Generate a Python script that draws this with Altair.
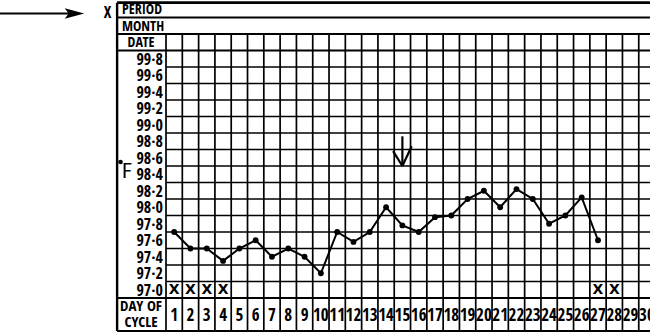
import altair as alt
import pandas as pd

# ---- data ----
days = list(range(1, 28))
temps = [97.7, 97.5, 97.5, 97.35, 97.5, 97.6, 97.4, 97.5, 97.4, 97.2,
         97.7, 97.58, 97.7, 98.0, 97.78, 97.7, 97.88, 97.9, 98.1, 98.2,
         98.0, 98.22, 98.1, 97.8, 97.9, 98.12, 97.6]
period_days = [1, 2, 3, 4, 27, 28]
temp_ticks = [97.0, 97.2, 97.4, 97.6, 97.8, 98.0, 98.2, 98.4, 98.6, 98.8,
              99.0, 99.2, 99.4, 99.6, 99.8]
temp_labels = ["97·0", "97·2", "97·4", "97·6", "97·8", "98·0", "98·2", "98·4",
               "98·6", "98·8", "99·0", "99·2", "99·4", "99·6", "99·8"]
cycle_days = list(range(1, 31))
header_labels = ["PERIOD", "MONTH", "DATE"]
ovulation_day = 15

# ---- layout (scale units: x = day of cycle, y = temperature) ----
XMIN, XMAX = -9.684, 30.19
YMIN, YMAX = 96.488, 100.512
LEFT = -2.5          # left edge of the label column
GRID_L = 0.5         # first day column boundary
ROW = 0.2
T_BOT = 96.9         # bottom of the 97.0 row
T_TOP = 99.9         # top of the 99.8 row
DATE_TOP = T_TOP + ROW
MONTH_TOP = DATE_TOP + ROW
PERIOD_TOP = MONTH_TOP + ROW
BOTTOM = T_BOT - 2 * ROW

NUM_FONT = "Open Sans Condensed, Roboto Condensed, DejaVu Sans Condensed"

xs = alt.Scale(domain=[XMIN, XMAX], nice=False, zero=False)
ys = alt.Scale(domain=[YMIN, YMAX], nice=False, zero=False)


def X(f="u"):
    return alt.X(f + ":Q", scale=xs, axis=None)


def Y(f="v"):
    return alt.Y(f + ":Q", scale=ys, axis=None)


# grid rules
vert = pd.DataFrame({"u": [d + 0.5 for d in range(0, 30)]})
vert["u2"] = vert["u"]
vert["v"] = DATE_TOP
vert["v2"] = BOTTOM

inner_h = pd.DataFrame({"v": [round(T_BOT + ROW * k, 2) for k in range(1, 15)]})
inner_h["v2"] = inner_h["v"]
inner_h["u"] = GRID_L
inner_h["u2"] = XMAX

box_h = pd.DataFrame({"v": [BOTTOM, T_BOT, T_TOP, DATE_TOP, MONTH_TOP]})
box_h["v2"] = box_h["v"]
box_h["u"] = LEFT
box_h["u2"] = XMAX

top_h = pd.DataFrame({"v": [PERIOD_TOP - 0.02], "v2": [PERIOD_TOP - 0.02],
                      "u": [LEFT], "u2": [XMAX]})

left_v = pd.DataFrame({"u": [LEFT], "u2": [LEFT], "v": [BOTTOM], "v2": [PERIOD_TOP - 0.02]})


def rules(df, w):
    return alt.Chart(df).mark_rule(color="black", strokeWidth=w).encode(
        x=X("u"), x2="u2", y=Y("v"), y2="v2")


grid_v = rules(vert, 1.7)
grid_h = rules(inner_h, 1.7)
box = rules(box_h, 2.0)
top = rules(top_h, 2.6)
left = rules(left_v, 2.4)

# temperature labels
tl = pd.DataFrame({"v": temp_ticks, "t": temp_labels})
temp_text = alt.Chart(tl).mark_text(
    align="right", baseline="middle", font=NUM_FONT, fontWeight="bold",
    fontSize=16, color="black", dy=1).encode(
    x=alt.value(163), y=Y("v"), text="t:N")

# day of cycle numbers
cd = pd.DataFrame({"u": cycle_days, "t": [str(d) for d in cycle_days]})
cd["v"] = T_BOT - ROW
day_text = alt.Chart(cd).mark_text(
    align="center", baseline="middle", font=NUM_FONT, fontSize=17,
    fontWeight="bold", color="black", dy=1).encode(
    x=X("u"), y=Y("v"), text="t:N")

# period crosses
pdx = pd.DataFrame({"u": period_days, "v": [temp_ticks[0]] * len(period_days)})
cross = alt.Chart(pdx).mark_text(
    text="X", align="center", baseline="middle", font="DejaVu Sans",
    fontWeight="bold", fontSize=14, color="black").encode(x=X("u"), y=Y("v"))

# header labels
hd = pd.DataFrame({"t": header_labels,
                   "v": [MONTH_TOP + ROW / 2, DATE_TOP + ROW / 2, T_TOP + ROW / 2]})
head_left = alt.Chart(hd.iloc[:2]).mark_text(
    align="left", baseline="middle", font=NUM_FONT, fontWeight="bold",
    fontSize=14, color="black", dy=1).encode(x=alt.value(122), y=Y("v"), text="t:N")
head_date = alt.Chart(hd.iloc[2:]).mark_text(
    align="center", baseline="middle", font=NUM_FONT, fontWeight="bold",
    fontSize=14, color="black", dy=1).encode(x=alt.value(141), y=Y("v"), text="t:N")

cyc = pd.DataFrame({"t": ["DAY OF", "CYCLE"], "py": [306, 322]})
cyc_text = alt.Chart(cyc).mark_text(
    align="center", baseline="middle", font=NUM_FONT, fontWeight="bold",
    fontSize=15, color="black").encode(
    x=alt.value(141), y=alt.Y("py:Q", scale=None, axis=None), text="t:N")

# degree F
degF = alt.Chart(pd.DataFrame({"t": ["F"]})).mark_text(
    align="left", baseline="middle", font="Roboto Condensed, DejaVu Sans Condensed",
    fontSize=21, color="black").encode(x=alt.value(122), y=alt.value(171.5), text="t:N")
degdot = alt.Chart(pd.DataFrame({"a": [0]})).mark_point(
    filled=True, shape="circle", size=22, color="black", opacity=1).encode(
    x=alt.value(120.5), y=alt.value(162))

# X and arrow at top-left
xmark = alt.Chart(pd.DataFrame({"t": ["X"]})).mark_text(
    align="center", baseline="middle", font=NUM_FONT, fontWeight="bold",
    fontSize=16, color="black").encode(x=alt.value(107.5), y=alt.value(12.5), text="t:N")
shaft = alt.Chart(pd.DataFrame({"a": [0]})).mark_rule(
    color="black", strokeWidth=2).encode(
    x=alt.value(0), x2=alt.value(74), y=alt.value(13.5))
head = alt.Chart(pd.DataFrame({"a": [0]})).mark_point(
    filled=True, color="black", opacity=1, size=380,
    shape="M-1,-0.55 L1,0 L-1,0.55 L-0.6,0 Z").encode(
    x=alt.value(74.5), y=alt.value(13.5))

# ovulation arrow near day 15
arr = pd.DataFrame({
    "seg": ["s", "s", "l", "l", "r", "r"],
    "u": [ovulation_day, ovulation_day, ovulation_day - 0.57, ovulation_day,
          ovulation_day + 0.57, ovulation_day],
    "v": [98.86, 98.5, 98.68, 98.5, 98.74, 98.5],
})
ov_arrow = alt.Chart(arr).mark_line(color="black", strokeWidth=2.2).encode(
    x=X("u"), y=Y("v"), detail="seg:N")

# temperature curve
td = pd.DataFrame({"u": days, "v": temps})
curve = alt.Chart(td).mark_line(color="black", strokeWidth=2).encode(
    x=X("u"), y=Y("v"))
pts = alt.Chart(td).mark_point(filled=True, color="black", opacity=1,
                               size=34).encode(x=X("u"), y=Y("v"))

chart = alt.layer(
    grid_v, grid_h, box, top, left, temp_text, day_text, cross, head_left,
    head_date, cyc_text, degF, degdot, xmark, shaft, head, ov_arrow, curve, pts
).properties(
    width=650, height=332, autosize=alt.AutoSizeParams(type="none"), padding=0,
    background="white"
).configure_view(stroke=None)

chart.save("out.html", embed_options={"renderer": "svg", "actions": False})
